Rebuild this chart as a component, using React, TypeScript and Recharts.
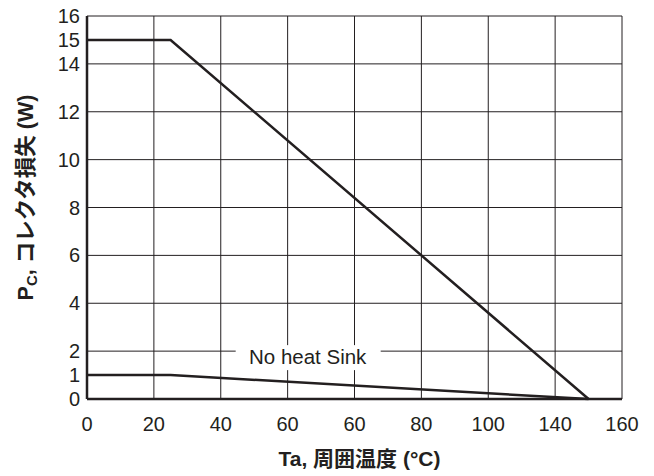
import React from 'react';
import { LineChart, Line, XAxis, YAxis, CartesianGrid, ReferenceDot, Label } from 'recharts';

const FONT = '"Liberation Sans", Arial, "Noto Sans CJK JP", sans-serif';
const INK = '#231f20';

// x axis: grid every 20 °C, the printed labels are kept as they appear
const X_TICKS = [0, 20, 40, 60, 80, 100, 120, 140, 160];
const X_TICK_LABELS = ['0', '20', '40', '60', '60', '80', '100', '140', '160'];
const Y_TICKS = [0, 1, 2, 4, 6, 8, 10, 12, 14, 15, 16];
const Y_GRID = [0, 2, 4, 6, 8, 10, 12, 14, 16];

// derating curves (Ta in °C, Pc in W)
const TA = [0, 25, 150];
const PC_WITH_SINK = [15, 15, 0];
const PC_NO_SINK = [1, 1, 0];

const NOTE_TEXT = 'No heat Sink';
const NOTE_AT = { ta: 66, pc: 2 };

const data = TA.map((t, i) => ({ ta: t, sink: PC_WITH_SINK[i], noSink: PC_NO_SINK[i] }));

const NoteShape = (props: any) => {
  const { cx, cy } = props;
  return (
    <g>
      <rect x={cx - 72} y={cy - 6} width={145} height={25} fill="#fff" />
      <text x={cx} y={cy + 13} textAnchor="middle" fontSize={20.5} fontFamily={FONT} fill={INK}>
        {NOTE_TEXT}
      </text>
    </g>
  );
};

const XTitle = (props: any) => {
  const { x, y, width } = props.viewBox;
  return (
    <text x={x + width / 2 + 5} y={y + 67} textAnchor="middle" fontSize={21} fontWeight="bold" fontFamily={FONT} fill={INK}>
      Ta, 周囲温度 (°C)
    </text>
  );
};

const YTitle = (props: any) => {
  const { x, y, height } = props.viewBox;
  const cx = x + 26;
  const cy = y + height / 2 - 10;
  return (
    <text transform={`translate(${cx},${cy}) rotate(-90)`} textAnchor="middle" fontSize={21.5} fontWeight="bold" fontFamily={FONT} fill={INK}>
      P<tspan fontSize={15} dy={4}>C</tspan><tspan dy={-4}>, コレクタ損失 (W)</tspan>
    </text>
  );
};

export default function App() {
  const tick = { fontSize: 20, fontFamily: FONT, fill: INK };
  return (
    <div style={{ position: 'absolute', left: 0, top: 0, width: 654, height: 476, background: '#fff' }}>
      <LineChart width={654} height={476} data={data} margin={{ top: 16, right: 32, bottom: 0, left: 7 }}>
        <CartesianGrid stroke={INK} strokeWidth={1} horizontalValues={Y_GRID} verticalValues={X_TICKS} />
        <XAxis
          dataKey="ta"
          type="number"
          domain={[0, 160]}
          ticks={X_TICKS}
          interval={0}
          height={77}
          tickSize={0}
          tickMargin={18}
          tickLine={false}
          tick={tick}
          tickFormatter={(v: number, i: number) => X_TICK_LABELS[i]}
          axisLine={{ stroke: INK, strokeWidth: 2.5 }}
        >
          <Label content={XTitle} />
        </XAxis>
        <YAxis
          type="number"
          domain={[0, 16]}
          ticks={Y_TICKS}
          interval={0}
          width={80}
          tickSize={0}
          tickMargin={7}
          tickLine={false}
          tick={tick}
          axisLine={{ stroke: INK, strokeWidth: 2.5 }}
        >
          <Label content={YTitle} />
        </YAxis>
        <ReferenceDot x={NOTE_AT.ta} y={NOTE_AT.pc} r={0} shape={NoteShape} />
        <Line type="linear" dataKey="sink" stroke={INK} strokeWidth={2.5} dot={false} isAnimationActive={false} />
        <Line type="linear" dataKey="noSink" stroke={INK} strokeWidth={2.5} dot={false} isAnimationActive={false} />
      </LineChart>
    </div>
  );
}
